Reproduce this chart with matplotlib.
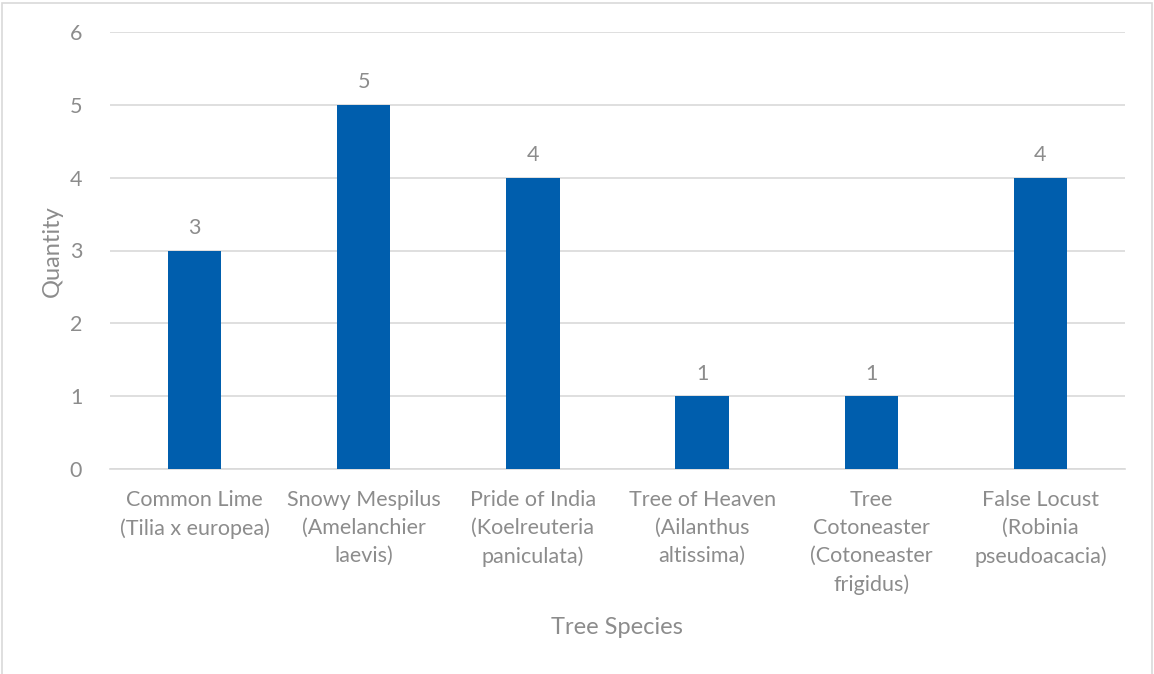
import matplotlib.pyplot as plt
from matplotlib.patches import Rectangle

# Tree counts by species
Species = ['Common Lime\n(Tilia x europea)', 'Snowy Mespilus\n(Amelanchier\nlaevis)',
           'Pride of India\n(Koelreuteria\npaniculata)', 'Tree of Heaven\n(Ailanthus\naltissima)',
           'Tree\nCotoneaster\n(Cotoneaster\nfrigidus)', 'False Locust\n(Robinia\npseudoacacia)']
Quantity = [3, 5, 4, 1, 1, 4]
Y_Ticks = [0, 1, 2, 3, 4, 5, 6]

W, H = 1154, 674
Text_Color = '#8C8C8C'
Bar_Color = '#005EAD'
plt.rcParams['font.family'] = ['Lato', 'DejaVu Sans']

fig = plt.figure(figsize=(W / 100, H / 100), dpi=100)
fig.patches.append(Rectangle((2 / W, -0.05), (W - 4) / W, 1.05 - 3 / H, transform=fig.transFigure,
                             fill=False, edgecolor='#D9D9D9', linewidth=1.2))

# Plot area
ax = fig.add_axes([110 / W, (H - 469) / H, (1125 - 110) / W, (469 - 32) / H])
x = list(range(len(Species)))
bars = ax.bar(x, Quantity, width=0.315, color=Bar_Color, zorder=3)
for i_Bar, i_Val in zip(bars, Quantity):
	ax.annotate(str(i_Val), (i_Bar.get_x() + i_Bar.get_width() / 2, i_Val), xytext=(0, 9),
	            textcoords='offset points', ha='center', va='bottom', fontsize=15.5, color=Text_Color)

ax.set_xlim(-0.5, len(Species) - 0.5)
ax.set_ylim(0, 6)
ax.set_yticks(Y_Ticks)
ax.set_xticks(x)
ax.set_xticklabels(Species, linespacing=1.5)
ax.grid(axis='y', color='#D9D9D9', linewidth=1.2, zorder=0)
for s in ['top', 'right', 'left']:
	ax.spines[s].set_visible(False)
ax.spines['bottom'].set_color('#D9D9D9')
ax.spines['bottom'].set_linewidth(1.2)
ax.tick_params(axis='both', length=0, labelsize=15.5, labelcolor=Text_Color)
ax.tick_params(axis='y', pad=20)
ax.tick_params(axis='x', pad=15)

# Axis titles
fig.text(52 / W, 1 - 251 / H, 'Quantity', rotation=90, ha='center', va='center', fontsize=17, color=Text_Color)
fig.text(617 / W, 1 - 627 / H, 'Tree Species', ha='center', va='center', fontsize=17, color=Text_Color)

fig.savefig('out.png', dpi=100)
